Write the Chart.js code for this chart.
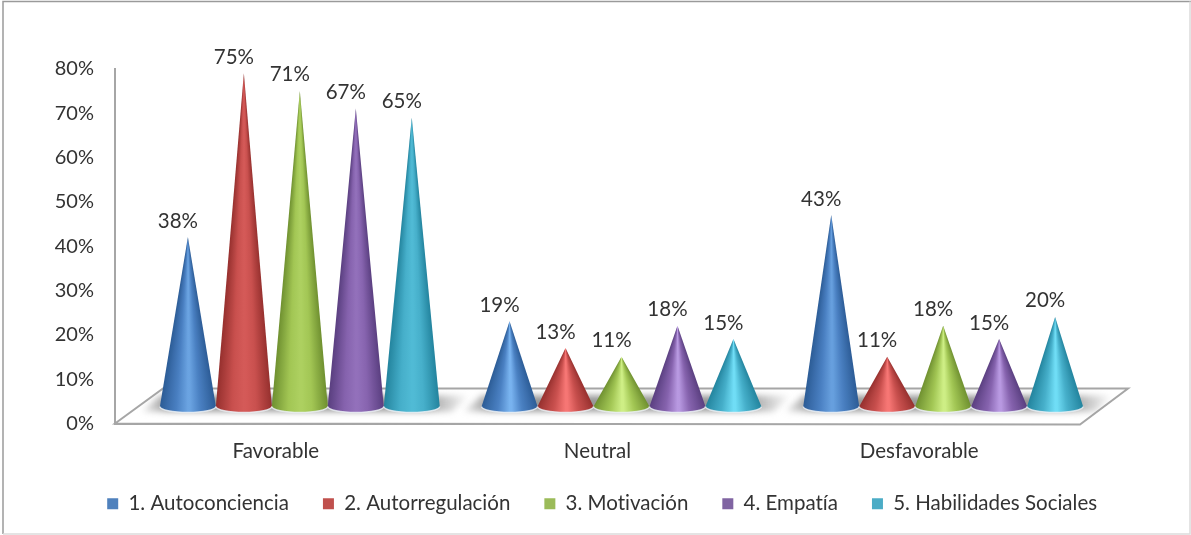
<!DOCTYPE html>
<html lang="es">
<head>
  <meta charset="UTF-8">
  <title>Inteligencia emocional</title>
  <style>
    html, body { margin: 0; background: #fff; }
    canvas { display: block; }
  </style>
  <script src="https://cdn.jsdelivr.net/npm/chart.js"></script>
</head>
<body>
  <canvas id="chart" width="1191" height="535"></canvas>
  <script>
    const categories = ['Favorable', 'Neutral', 'Desfavorable'];
    const seriesNames = ['1. Autoconciencia', '2. Autorregulación', '3. Motivación', '4. Empatía', '5. Habilidades Sociales'];
    const autoconciencia = [38, 19, 43];
    const autorregulacion = [75, 13, 11];
    const motivacion = [71, 11, 18];
    const empatia = [67, 18, 15];
    const habilidades = [65, 15, 20];
    const seriesValues = [autoconciencia, autorregulacion, motivacion, empatia, habilidades];
    const yTicks = [0, 10, 20, 30, 40, 50, 60, 70, 80];

    const legendColors = ['#4f81bd', '#c0504d', '#9bbb59', '#8064a2', '#4bacc6'];
    // edge, mid, highlight for each cone colour
    const coneShades = [
      ['#2c5c96', '#4a80c2', '#7db8f4'],
      ['#96302e', '#c9504e', '#fb7a78'],
      ['#6f9030', '#a2c654', '#d2f28a'],
      ['#5a3f80', '#8663ae', '#bd9ee6'],
      ['#23849e', '#46afca', '#74e2fa']
    ];
    const FONT = 'Lato, "Noto Sans", sans-serif';
    const TEXT = '#333';
    const LINE = '#a6a6a6';
    // the cones stand half way into the floor, the axes are on its front edge
    const depthX = 24, depthY = 17;

    function hexRgb(h) {
      return [1, 3, 5].map(i => parseInt(h.substr(i, 2), 16));
    }
    function mix(a, b, t) {
      return a.map((v, i) => v + (b[i] - v) * t);
    }
    function shadeAt(shades, t, glow) {
      const edge = hexRgb(shades[0]), mid = hexRgb(shades[1]);
      const hi = mix(mid, hexRgb(shades[2]), glow);
      let c;
      if (t < 0.3) c = mix(edge, mid, t / 0.3);
      else if (t < 0.52) c = mix(mid, hi, (t - 0.3) / 0.22);
      else if (t < 0.72) c = mix(hi, mid, (t - 0.52) / 0.2);
      else c = mix(mid, edge, (t - 0.72) / 0.28);
      return 'rgb(' + c.map(Math.round).join(',') + ')';
    }

    function drawCone(ctx, cx, tip, base, w, shades, glow) {
      const ry = 6, steps = 24;
      const h = base - tip;
      const right = Math.atan2(h, w), left = Math.atan2(h, -w);
      const sweep = (left - right) / (2 * Math.PI);
      // conic fill round the tip, so the shading narrows towards it
      const fill = ctx.createConicGradient(right, cx, tip);
      for (let i = 0; i <= steps; i++) {
        const a = right + (left - right) * i / steps;
        const t = 0.5 + (h / Math.tan(a)) / (2 * w);
        fill.addColorStop(sweep * i / steps, shadeAt(shades, t, glow));
      }
      fill.addColorStop(Math.min(1, sweep + 0.02), shadeAt(shades, 0, glow));
      ctx.beginPath();
      ctx.moveTo(cx, tip);
      ctx.lineTo(cx - w, base);
      ctx.ellipse(cx, base, w, ry, 0, Math.PI, 0, true);
      ctx.closePath();
      ctx.fillStyle = fill;
      ctx.fill();
      // pale rim along the bottom of the cone
      ctx.beginPath();
      ctx.ellipse(cx, base, w, ry, 0, 0, Math.PI);
      ctx.strokeStyle = 'rgba(235,240,245,0.85)';
      ctx.lineWidth = 1.5;
      ctx.stroke();
    }

    const conePlugin = {
      id: 'cones',
      afterLayout(chart) {
        // the legend box overlaps the axis box, let the category labels out of their clip
        chart.scales.x.bottom = chart.scales.x.top + 60;
      },
      beforeDraw(chart) {
        const ctx = chart.ctx;
        // keeps Lato from joining "ti" into a ligature
        ctx.textRendering = 'optimizeSpeed';
        ctx.save();
        ctx.fillStyle = '#fff';
        ctx.fillRect(0, 0, chart.width, chart.height);
        ctx.strokeStyle = '#9a9a9a';
        ctx.lineWidth = 1.5;
        ctx.beginPath();
        ctx.moveTo(3, 534);
        ctx.lineTo(3, 1.5);
        ctx.lineTo(1191, 1.5);
        ctx.stroke();
        ctx.strokeStyle = '#dcdcdc';
        ctx.beginPath();
        ctx.moveTo(3, 534);
        ctx.lineTo(1190, 534);
        ctx.lineTo(1190, 1.5);
        ctx.stroke();
        ctx.restore();
      },
      beforeDatasetsDraw(chart) {
        const ctx = chart.ctx, a = chart.chartArea;
        const dx = depthX * 2, dy = depthY * 2 + 1;
        ctx.save();
        ctx.beginPath();
        ctx.moveTo(a.left, a.bottom);
        ctx.lineTo(a.left + dx, a.bottom - dy);
        ctx.lineTo(a.right + dx, a.bottom - dy);
        ctx.lineTo(a.right, a.bottom + 1);
        ctx.closePath();
        ctx.fillStyle = '#fff';
        ctx.fill();
        ctx.strokeStyle = LINE;
        ctx.lineWidth = 2;
        ctx.stroke();
        // soft shadow of each group of cones on the floor, fading out to the right
        ctx.save();
        ctx.clip();
        ctx.filter = 'blur(3px)';
        const first = chart.getDatasetMeta(0).data;
        const last = chart.getDatasetMeta(chart.data.datasets.length - 1).data;
        first.forEach((bar, i) => {
          const x0 = bar.x + depthX - 28;
          const x1 = last[i].x + depthX + 58;
          const fade = ctx.createLinearGradient(x0 - 24, 0, x1, 0);
          fade.addColorStop(0, 'rgba(150,150,150,0)');
          fade.addColorStop(0.1, 'rgba(150,150,150,1)');
          fade.addColorStop(0.86, 'rgba(150,150,150,1)');
          fade.addColorStop(1, 'rgba(150,150,150,0)');
          ctx.fillStyle = fade;
          ctx.beginPath();
          ctx.moveTo(x0, a.bottom - 28);
          ctx.lineTo(x1, a.bottom - 28);
          ctx.lineTo(x1 - 18, a.bottom - 12);
          ctx.lineTo(x0 - 18, a.bottom - 12);
          ctx.closePath();
          ctx.fill();
        });
        ctx.restore();
        ctx.restore();
      },
      beforeDatasetDraw() {
        // bars are replaced by the cones below
        return false;
      },
      afterDatasetsDraw(chart) {
        const ctx = chart.ctx;
        ctx.save();
        chart.data.datasets.forEach((ds, s) => {
          chart.getDatasetMeta(s).data.forEach((bar, i) => {
            const h = bar.base - bar.y;
            const glow = Math.max(0.25, Math.min(1, 1.35 - h / 260));
            drawCone(ctx, bar.x + depthX, bar.y - depthY - 1, bar.base - depthY, bar.width / 2, coneShades[s], glow);
          });
        });
        ctx.fillStyle = TEXT;
        ctx.font = '20.5px ' + FONT;
        ctx.textAlign = 'center';
        ctx.textBaseline = 'middle';
        chart.data.datasets.forEach((ds, s) => {
          chart.getDatasetMeta(s).data.forEach((bar, i) => {
            ctx.fillText(ds.data[i] + '%', bar.x + depthX - 10, bar.y - depthY - 17);
          });
        });
        ctx.restore();
      }
    };

    new Chart(document.getElementById('chart'), {
      type: 'bar',
      data: {
        labels: categories,
        datasets: seriesNames.map((name, i) => ({
          label: name,
          data: seriesValues[i],
          backgroundColor: legendColors[i],
          barPercentage: 1,
          categoryPercentage: 0.87
        }))
      },
      options: {
        responsive: false,
        animation: false,
        events: [],
        layout: { padding: { top: 69, bottom: 11, left: 14 } },
        plugins: {
          tooltip: { enabled: false },
          legend: {
            position: 'bottom',
            labels: {
              boxWidth: 11,
              boxHeight: 11,
              padding: 34,
              color: TEXT,
              font: { family: FONT, size: 20.5 }
            }
          }
        },
        scales: {
          x: {
            grid: { display: false },
            border: { color: LINE, width: 2 },
            ticks: { color: TEXT, font: { family: FONT, size: 20.5 }, padding: 8 },
            afterFit(s) { s.height = 36; }
          },
          y: {
            min: 0,
            max: 80,
            grid: { display: false },
            border: { color: LINE, width: 2 },
            afterBuildTicks(s) { s.ticks = yTicks.map(v => ({ value: v })); },
            ticks: {
              color: TEXT,
              font: { family: FONT, size: 20 },
              padding: 13,
              callback: v => v + '%'
            },
            afterFit(s) { s.width = 101; }
          },
          // empty scale, only keeps the room right of the plot
          spare: {
            position: 'right',
            grid: { display: false },
            border: { display: false },
            ticks: { display: false },
            afterFit(s) { s.width = 111; }
          }
        }
      },
      plugins: [conePlugin]
    });
  </script>
</body>
</html>
